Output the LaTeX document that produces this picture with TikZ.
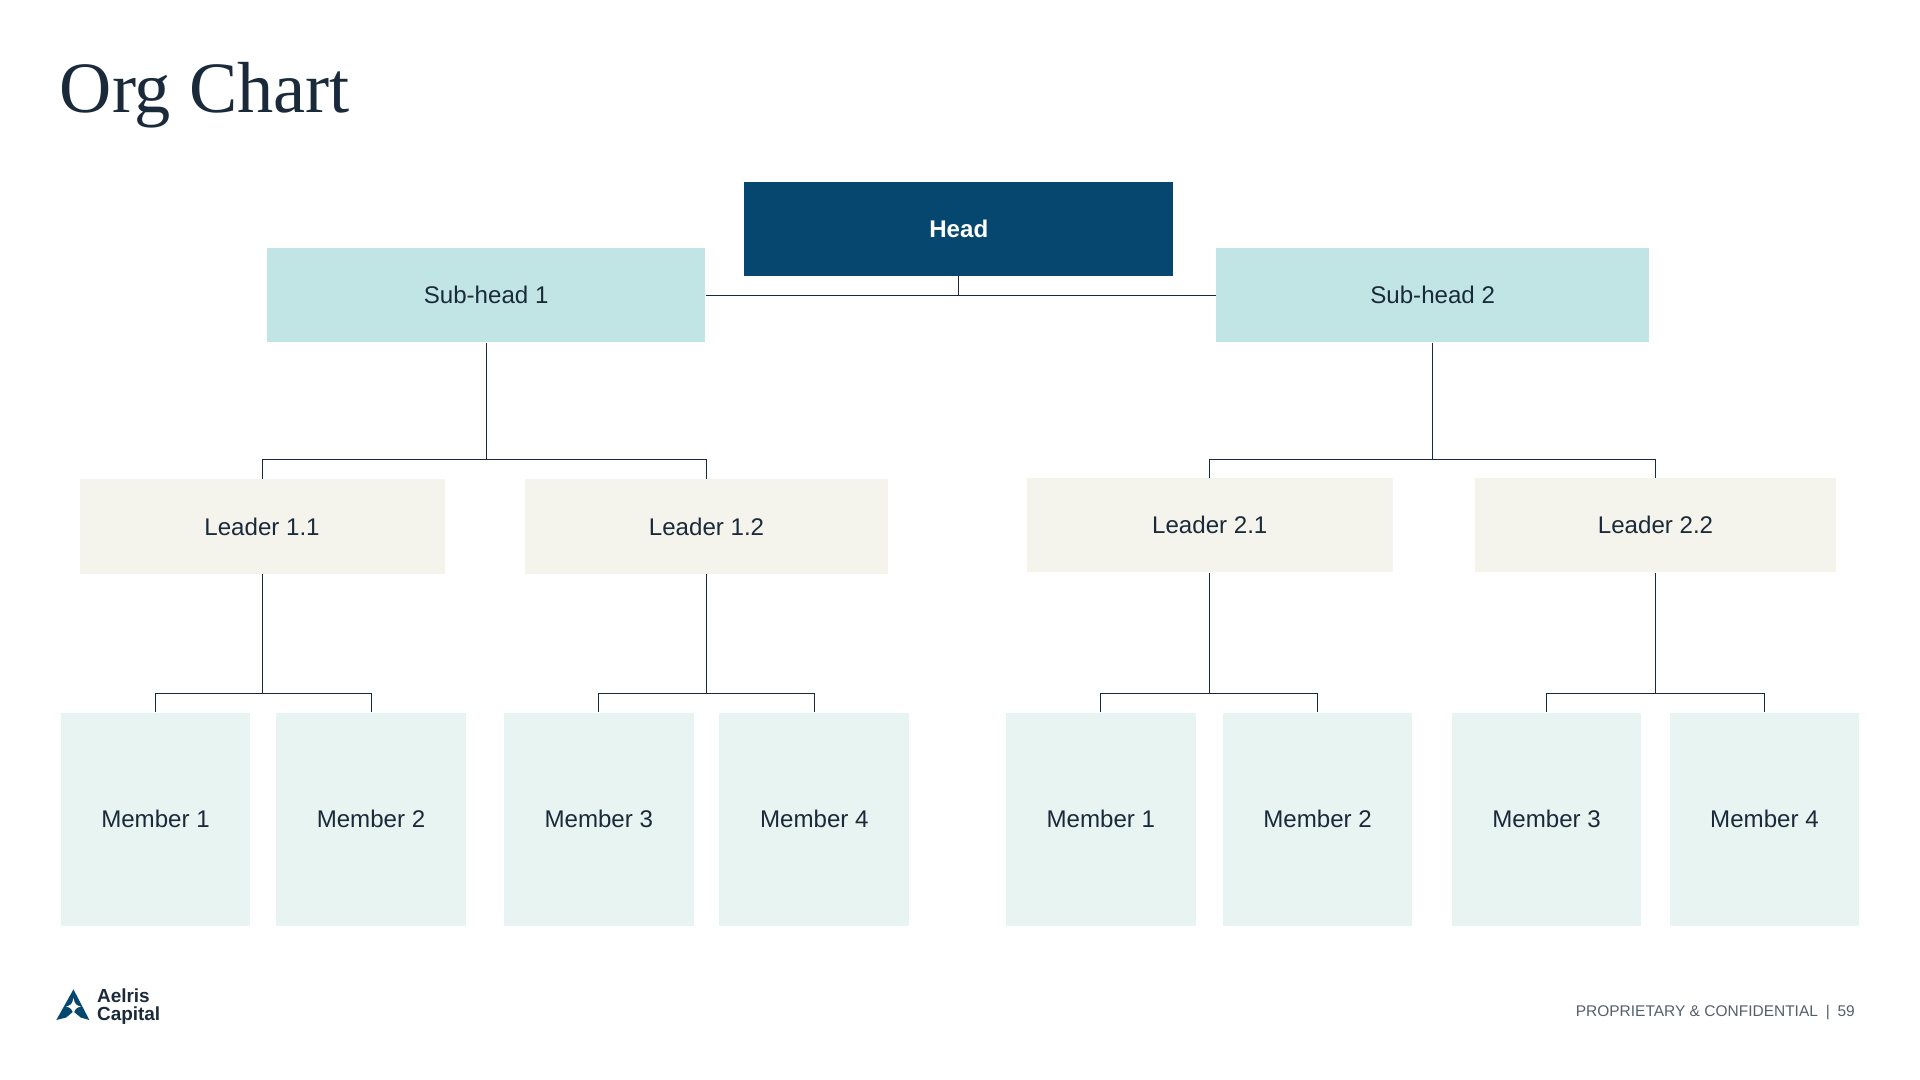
\documentclass[tikz,border=0pt]{standalone}
\usepackage{fontspec}
\setmainfont{Liberation Sans}
\newfontfamily\titlefont{Liberation Serif}
\usetikzlibrary{positioning}

\definecolor{headblue}{HTML}{05476F}
\definecolor{subcol}{HTML}{C1E5E5}
\definecolor{leadcol}{HTML}{F4F4EC}
\definecolor{memcol}{HTML}{E8F4F1}
\definecolor{inkdark}{HTML}{1B2A3A}

\tikzset{
    box/.style={inner sep=0pt, text=inkdark, font=\fontsize{14}{16}\selectfont},
    headbox/.style={box, fill=headblue, text=white, minimum width=8.75cm, minimum height=1.925cm, font=\bfseries\fontsize{14}{16}\selectfont},
    subbox/.style={box, fill=subcol, minimum height=1.925cm},
    leadbox/.style={box, fill=leadcol, minimum height=1.925cm},
    membox/.style={box, fill=memcol, minimum width=3.875cm, minimum height=4.35cm},
    link/.style={draw=inkdark, line width=0.5pt}
}

\begin{document}
\begin{tikzpicture}[x=0.025cm, y=-0.025cm]

    % Frame
    \useasboundingbox (0,0) rectangle (1568,882);

    % Title
    \node[anchor=west, text=inkdark, font=\titlefont\fontsize{42}{46}\selectfont] (title) at (44,78) {Org Chart};

    % Head and sub-heads
    \node[headbox] (head) at (783,187) {Head};
    \node[subbox, minimum width=8.95cm] (sub1) at (397,241) {Sub-head 1};
    \node[subbox, minimum width=8.85cm] (sub2) at (1170,241) {Sub-head 2};

    % Leaders
    \node[leadbox, minimum width=7.45cm] (lead11) at (214,430) {Leader 1.1};
    \node[leadbox, minimum width=7.4cm] (lead12) at (577,430) {Leader 1.2};
    \node[leadbox, minimum width=7.475cm] (lead21) at (988,429) {Leader 2.1};
    \node[leadbox, minimum width=7.375cm] (lead22) at (1352,429) {Leader 2.2};

    % Members
    \node[membox] (mem1a) at (127,669) {Member 1};
    \node[membox] (mem2a) at (303,669) {Member 2};
    \node[membox] (mem3a) at (489,669) {Member 3};
    \node[membox] (mem4a) at (665,669) {Member 4};
    \node[membox] (mem1b) at (899,669) {Member 1};
    \node[membox] (mem2b) at (1076,669) {Member 2};
    \node[membox] (mem3b) at (1263,669) {Member 3};
    \node[membox] (mem4b) at (1441,669) {Member 4};

    % Links
    \draw[link] (head.south) -- ++(0,15);
    \draw[link] (sub1.east) -- (sub2.west);

    \draw[link] (sub1.south) -- ++(0,96);
    \draw[link] (lead11.north) -- ++(0,-16) -| (lead12.north);
    \draw[link] (sub2.south) -- ++(0,95);
    \draw[link] (lead21.north) -- ++(0,-15) -| (lead22.north);

    \foreach \ld/\ma/\mb in {lead11/mem1a/mem2a, lead12/mem3a/mem4a, lead21/mem1b/mem2b, lead22/mem3b/mem4b} {
        \draw[link] (\ld.south) -- ++(0,98);
        \draw[link] (\ma.north) -- ++(0,-15) -| (\mb.north);
    }

    % Logo
    \fill[headblue] (60,808) -- (73,833) -- (66,831) -- (60,826) -- (54,831) -- (46,833) -- cycle;
    \fill[white] (60,815) .. controls (61,820) and (62,821) .. (66,822) .. controls (62,823) and (61,824) .. (60,829) .. controls (59,824) and (58,823) .. (54,822) .. controls (58,821) and (59,820) .. cycle;
    \node[anchor=west, align=left, text=inkdark, inner sep=0pt, font=\bfseries\fontsize{11}{10}\selectfont] (logo) at (79,822) {Aelris\\Capital};

    % Footer
    \node[anchor=east, text=inkdark!75, inner sep=0pt, font=\fontsize{9}{10}\selectfont] (foot) at (1515,827) {PROPRIETARY \& CONFIDENTIAL\enspace|\enspace 59};

\end{tikzpicture}
\end{document}
